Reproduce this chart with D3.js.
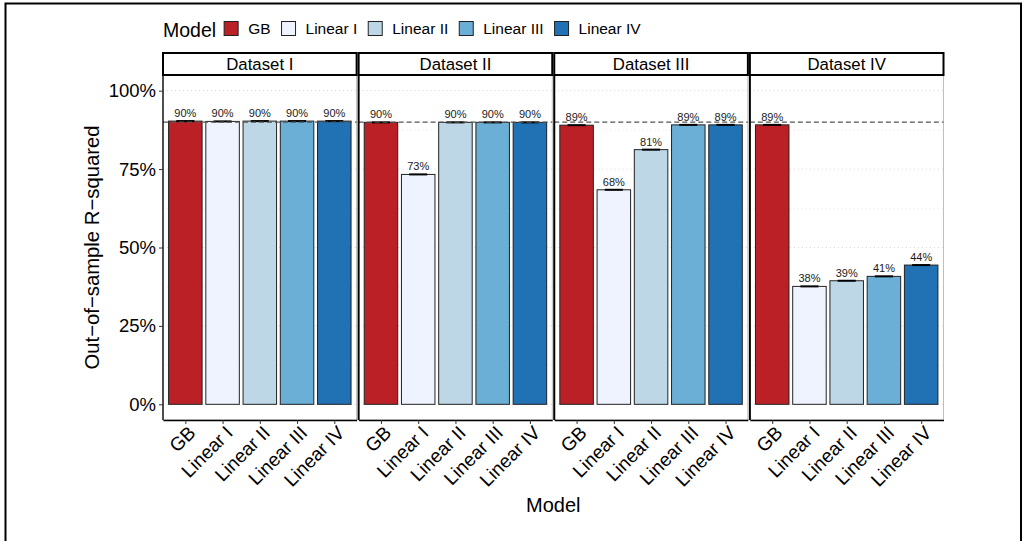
<!DOCTYPE html>
<html>
<head>
<meta charset="utf-8">
<script src="https://cdn.jsdelivr.net/npm/d3@7"></script>
<style>
  html, body { margin: 0; padding: 0; background: #fff; }
  svg { display: block; font-family: "Liberation Sans", Arial, Helvetica, sans-serif; }
</style>
</head>
<body>
<svg id="chart" width="1022" height="541"></svg>
<script>
// Out-of-sample R-squared by model, faceted by dataset
const datasets = ["Dataset I", "Dataset II", "Dataset III", "Dataset IV"];
const models = ["GB", "Linear I", "Linear II", "Linear III", "Linear IV"];
const colors = ["#bb2027", "#eff3ff", "#bdd7e7", "#6baed6", "#2171b5"];

// one array per dataset, in model order
const r2DatasetI   = [0.903, 0.902, 0.903, 0.903, 0.903];
const r2DatasetII  = [0.899, 0.733, 0.899, 0.899, 0.899];
const r2DatasetIII = [0.890, 0.684, 0.812, 0.891, 0.891];
const r2DatasetIV  = [0.891, 0.376, 0.394, 0.408, 0.444];
const r2Values = [r2DatasetI, r2DatasetII, r2DatasetIII, r2DatasetIV];

const yTicks = [0, 0.25, 0.5, 0.75, 1.0];
const yMinorTicks = [0.125, 0.375, 0.625, 0.875];
const referenceLevel = 0.9;

const svg = d3.select("#chart");

// outer frame
svg.append("rect")
  .attr("x", 5.5).attr("y", 3.5)
  .attr("width", 1015.5).attr("height", 545)
  .attr("fill", "none").attr("stroke", "#000").attr("stroke-width", 2);

const plotLeft = 163, plotRight = 943.5;
const panelGap = 2;
const panelW = (plotRight - plotLeft - panelGap * (datasets.length - 1)) / datasets.length;
const stripTop = 53, stripBottom = 75;
const panelTop = 75, panelBottom = 420;

const y = d3.scaleLinear().domain([-0.05, 1.05]).range([panelBottom, panelTop]);
const x = d3.scalePoint().domain(models).range([0, panelW]).padding(0.6);
const barW = x.step() * 0.9;
const fmt = d3.format(".0%");

datasets.forEach((ds, i) => {
  const x0 = plotLeft + i * (panelW + panelGap);
  const g = svg.append("g").attr("transform", `translate(${x0},0)`);

  // grid: minor and major, dotted
  g.selectAll("line.minor").data(yMinorTicks).enter().append("line")
    .attr("x1", 0).attr("x2", panelW)
    .attr("y1", d => y(d)).attr("y2", d => y(d))
    .attr("stroke", "#e4e4e4").attr("stroke-width", 1).attr("stroke-dasharray", "1,3");
  g.selectAll("line.major").data(yTicks).enter().append("line")
    .attr("x1", 0).attr("x2", panelW)
    .attr("y1", d => y(d)).attr("y2", d => y(d))
    .attr("stroke", "#d6d6d6").attr("stroke-width", 1).attr("stroke-dasharray", "1,3");

  // panel border
  g.append("rect")
    .attr("x", 0).attr("y", panelTop).attr("width", panelW).attr("height", panelBottom - panelTop)
    .attr("fill", "none").attr("stroke", "#b0b0b0").attr("stroke-width", 0.8);

  const rows = models.map((m, j) => ({ model: m, value: r2Values[i][j], color: colors[j] }));

  // bars
  g.selectAll("rect.bar").data(rows).enter().append("rect")
    .attr("class", "bar")
    .attr("x", d => x(d.model) - barW / 2)
    .attr("y", d => y(d.value))
    .attr("width", barW)
    .attr("height", d => y(0) - y(d.value))
    .attr("fill", d => d.color)
    .attr("stroke", "#222").attr("stroke-width", 1);

  // error bars (very narrow intervals)
  g.selectAll("line.err").data(rows).enter().append("line")
    .attr("x1", d => x(d.model) - barW * 0.27)
    .attr("x2", d => x(d.model) + barW * 0.27)
    .attr("y1", d => y(d.value)).attr("y2", d => y(d.value))
    .attr("stroke", "#000").attr("stroke-width", 2);

  // value labels
  g.selectAll("text.val").data(rows).enter().append("text")
    .attr("x", d => x(d.model))
    .attr("y", d => y(d.value) - 4)
    .attr("text-anchor", "middle")
    .attr("font-size", "11px")
    .attr("fill", "#1a1a1a")
    .text(d => fmt(d.value));

  // reference line
  g.append("line")
    .attr("x1", 0).attr("x2", panelW)
    .attr("y1", y(referenceLevel)).attr("y2", y(referenceLevel))
    .attr("stroke", "#555").attr("stroke-width", 1.3).attr("stroke-dasharray", "5,3");

  // left axis line for each panel
  g.append("line")
    .attr("x1", 0).attr("x2", 0).attr("y1", panelTop).attr("y2", panelBottom)
    .attr("stroke", "#000").attr("stroke-width", i === 0 ? 1.3 : 2);

  // bottom axis
  const xAxis = g.append("g").attr("transform", `translate(0,${panelBottom})`)
    .call(d3.axisBottom(x).tickSize(4).tickSizeOuter(0));
  xAxis.select(".domain").attr("stroke", "#000").attr("stroke-width", 1.3);
  xAxis.selectAll(".tick line").attr("stroke", "#333");
  xAxis.selectAll(".tick text")
    .attr("font-size", "19px")
    .attr("fill", "#000")
    .attr("text-anchor", "end")
    .attr("transform", "translate(1,4) rotate(-45)")
    .attr("x", 0).attr("y", 0).attr("dy", "0.74em");

  // strip
  g.append("rect")
    .attr("x", 0).attr("y", stripTop).attr("width", panelW).attr("height", stripBottom - stripTop)
    .attr("fill", "#fff").attr("stroke", "#000").attr("stroke-width", 2);
  g.append("text")
    .attr("x", panelW / 2).attr("y", (stripTop + stripBottom) / 2)
    .attr("dy", "0.35em")
    .attr("text-anchor", "middle")
    .attr("font-size", "16.8px")
    .attr("fill", "#000")
    .text(ds);
});

// y axis
const yAxis = svg.append("g").attr("transform", `translate(${plotLeft},0)`)
  .call(d3.axisLeft(y).tickValues(yTicks).tickFormat(fmt).tickSize(4).tickPadding(3));
yAxis.select(".domain").remove();
yAxis.selectAll(".tick line").attr("stroke", "#333");
yAxis.selectAll(".tick text").attr("font-size", "18.5px").attr("fill", "#000");

// axis titles
svg.append("text")
  .attr("transform", `translate(99,${(panelTop + panelBottom) / 2}) rotate(-90)`)
  .attr("text-anchor", "middle")
  .attr("font-size", "20.3px")
  .attr("fill", "#000")
  .text("Out\u2212of\u2212sample R\u2212squared");

svg.append("text")
  .attr("x", (plotLeft + plotRight) / 2).attr("y", 512)
  .attr("text-anchor", "middle")
  .attr("font-size", "20px")
  .attr("fill", "#000")
  .text("Model");

// legend
const legend = svg.append("g");
const title = legend.append("text")
  .attr("x", plotLeft).attr("y", 36.5)
  .attr("font-size", "19.5px").attr("fill", "#000")
  .text("Model");
let lx = plotLeft + title.node().getComputedTextLength() + 8;
models.forEach((m, j) => {
  legend.append("rect")
    .attr("x", lx).attr("y", 21.5).attr("width", 14).attr("height", 14)
    .attr("fill", colors[j]).attr("stroke", "#222").attr("stroke-width", 1);
  const t = legend.append("text")
    .attr("x", lx + 24).attr("y", 34)
    .attr("font-size", "15.5px").attr("fill", "#000")
    .text(m);
  lx += 24 + t.node().getComputedTextLength() + 11;
});
</script>
</body>
</html>
